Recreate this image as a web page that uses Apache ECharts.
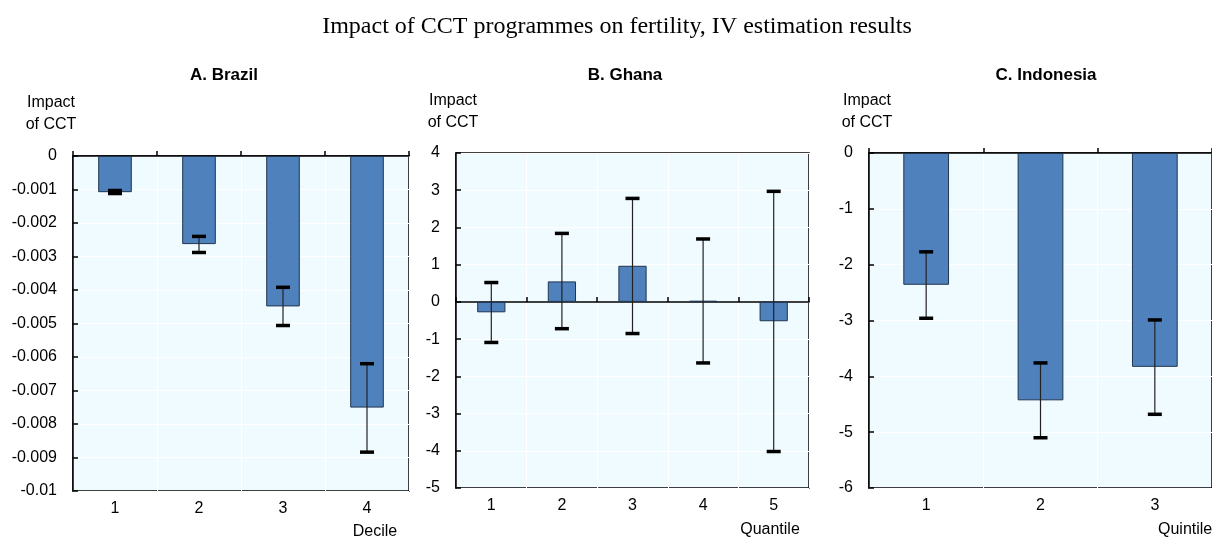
<!DOCTYPE html>
<html>
<head>
<meta charset="utf-8">
<script src="https://cdn.jsdelivr.net/npm/echarts@6/dist/echarts.min.js"></script>
<style>
html,body{margin:0;padding:0;background:#fff;}
#chart{width:1212px;height:541px;}
</style>
</head>
<body>
<div id="chart"></div>
<script>
// ---- Data ----
const brazilCats = ['1', '2', '3', '4'];
const brazilVals = [-0.00108, -0.00263, -0.00449, -0.00751];
const brazilLow  = [-0.00112, -0.00288, -0.00506, -0.00884];
const brazilHigh = [-0.00103, -0.00240, -0.00392, -0.00620];

const ghanaCats = ['1', '2', '3', '4', '5'];
const ghanaVals = [-0.28, 0.55, 0.97, 0.03, -0.52];
const ghanaLow  = [-1.09, -0.72, -0.85, -1.64, -4.02];
const ghanaHigh = [0.52, 1.84, 2.78, 1.69, 2.97];

const indoCats = ['1', '2', '3'];
const indoVals = [-2.36, -4.43, -3.83];
const indoLow  = [-2.96, -5.10, -4.68];
const indoHigh = [-1.77, -3.76, -2.99];

const titleText = 'Impact of CCT programmes on fertility, IV estimation results';
const panelTitles = ['A. Brazil', 'B. Ghana', 'C. Indonesia'];
const xNames = ['Decile', 'Quantile', 'Quintile'];
const yName = 'Impact\nof CCT';

// ---- Style ----
const SANS = "'Liberation Sans', Arial, sans-serif";
const SERIF = "'Liberation Serif', 'Times New Roman', serif";
const BAR = '#4F81BD';
const BG = '#F0FBFF';

const panels = [
  {cats: brazilCats, vals: brazilVals, lo: brazilLow, hi: brazilHigh, min: -0.01, max: 0, interval: 0.001,
   grid: {left: 73, top: 156, width: 336, height: 335}},
  {cats: ghanaCats, vals: ghanaVals, lo: ghanaLow, hi: ghanaHigh, min: -5, max: 4, interval: 1,
   grid: {left: 456, top: 153, width: 353, height: 335}},
  {cats: indoCats, vals: indoVals, lo: indoLow, hi: indoHigh, min: -6, max: 0, interval: 1,
   grid: {left: 869, top: 153, width: 352, height: 335}}
];

function errRender(params, api) {
  const x = api.value(0), lo = api.value(1), hi = api.value(2);
  const pLo = api.coord([x, lo]);
  const pHi = api.coord([x, hi]);
  const hw = 7;
  return {
    type: 'group',
    children: [
      {type: 'line', shape: {x1: pLo[0], y1: pLo[1], x2: pHi[0], y2: pHi[1]}, style: {stroke: '#222', lineWidth: 1.2}},
      {type: 'line', shape: {x1: pLo[0] - hw, y1: pLo[1], x2: pLo[0] + hw, y2: pLo[1]}, style: {stroke: '#000', lineWidth: 3.5}},
      {type: 'line', shape: {x1: pHi[0] - hw, y1: pHi[1], x2: pHi[0] + hw, y2: pHi[1]}, style: {stroke: '#000', lineWidth: 3.5}}
    ]
  };
}

const grid = [], xAxis = [], yAxis = [], series = [];
panels.forEach((p, i) => {
  grid.push(Object.assign({show: true, backgroundColor: BG, borderColor: '#000', borderWidth: 1.5, containLabel: false}, p.grid));
  // label axis at bottom
  xAxis.push({
    type: 'category', gridIndex: i, data: p.cats, position: 'bottom',
    axisLine: {show: false, onZero: false}, axisTick: {show: false},
    axisLabel: {fontFamily: SANS, fontSize: 16, color: '#000', margin: 10},
    splitLine: {show: true, interval: 0, lineStyle: {color: '#fff', width: 1}}
  });
  // zero line axis with ticks
  xAxis.push({
    type: 'category', gridIndex: i, data: p.cats, position: 'top',
    axisLine: {show: true, onZero: true, lineStyle: {color: '#000', width: 1.5}},
    axisTick: {show: true, length: 5, interval: 0, lineStyle: {color: '#000', width: 1.5}},
    axisLabel: {show: false}, splitLine: {show: false}
  });
  yAxis.push({
    type: 'value', gridIndex: i, min: p.min, max: p.max, interval: p.interval,
    axisLine: {show: true, lineStyle: {color: '#000', width: 1.5}},
    axisTick: {show: true, inside: true, length: 5, lineStyle: {color: '#000', width: 1.5}},
    axisLabel: {fontFamily: SANS, fontSize: 16, color: '#000', margin: 16},
    splitLine: {show: true, lineStyle: {color: '#fff', width: 1}}
  });
  series.push({
    type: 'bar', xAxisIndex: i * 2, yAxisIndex: i, data: p.vals, barWidth: '40%',
    itemStyle: {color: BAR, borderColor: '#1F3550', borderWidth: 1}, z: 2, silent: true
  });
  series.push({
    type: 'custom', xAxisIndex: i * 2, yAxisIndex: i, renderItem: errRender,
    encode: {x: 0, y: [1, 2]},
    data: p.cats.map((c, k) => [k, p.lo[k], p.hi[k]]), z: 5, silent: true
  });
});

const txt = (x, y, text, extra) => ({
  type: 'text', x: x, y: y,
  style: Object.assign({text: text, fill: '#000', font: '16px ' + SANS, textAlign: 'center', textVerticalAlign: 'middle'}, extra || {})
});

const graphic = [
  txt(617, 27, titleText, {font: '24px ' + SERIF}),
  txt(224, 75, panelTitles[0], {font: 'bold 17px ' + SANS}),
  txt(625, 75, panelTitles[1], {font: 'bold 17px ' + SANS}),
  txt(1046, 75, panelTitles[2], {font: 'bold 17px ' + SANS}),
  txt(51, 114, yName, {lineHeight: 22}),
  txt(453, 112, yName, {lineHeight: 22}),
  txt(867, 112, yName, {lineHeight: 22}),
  txt(375, 532, xNames[0]),
  txt(770, 530, xNames[1]),
  txt(1158, 530, xNames[2], {textAlign: 'left'})
];

const chart = echarts.init(document.getElementById('chart'), null, {renderer: 'canvas'});
chart.setOption({
  animation: false,
  backgroundColor: '#fff',
  grid: grid, xAxis: xAxis, yAxis: yAxis, series: series, graphic: graphic
});
</script>
</body>
</html>
